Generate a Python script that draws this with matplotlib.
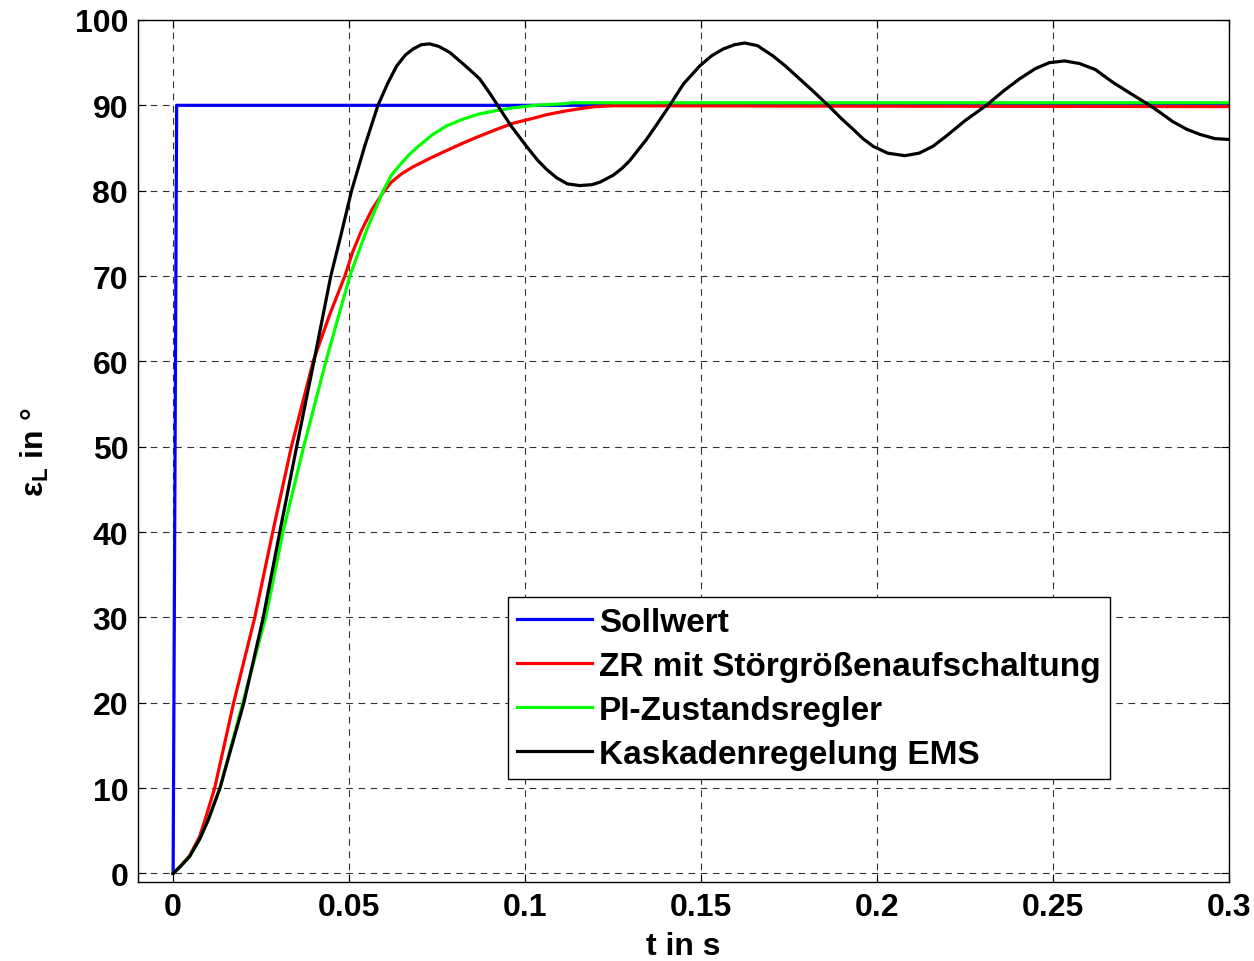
import matplotlib
matplotlib.use("Agg")
import matplotlib.pyplot as plt

# Sprungantworten (t in s, Winkel in Grad)
t_soll = [0.0, 0.001, 0.3]
y_soll = [0.0, 90.0, 90.0]

t_zr = [0.0, 0.002, 0.0047, 0.0075, 0.009, 0.0118, 0.0145, 0.0172, 0.0202, 0.0232, 0.0283,
        0.0336, 0.0398, 0.0445, 0.0488, 0.0510, 0.0535, 0.0565, 0.0597, 0.0620, 0.0650,
        0.0682, 0.0730, 0.0777, 0.0825, 0.0871, 0.0920, 0.0966, 0.1015, 0.1061, 0.1110,
        0.1155, 0.1200, 0.125, 0.2, 0.3]
y_zr = [0.0, 0.8, 2.1, 4.3, 6.2, 10.0, 15.0, 20.0, 25.0, 30.0, 40.0,
        50.0, 60.0, 65.5, 70.0, 72.8, 75.3, 77.8, 79.8, 81.0, 82.0,
        82.8, 83.8, 84.7, 85.6, 86.4, 87.2, 87.9, 88.4, 88.9, 89.3,
        89.6, 89.85, 89.95, 89.9, 89.85]

t_pi = [0.0, 0.002, 0.0047, 0.0075, 0.0099, 0.0133, 0.0198, 0.0263, 0.0312, 0.0371, 0.0434,
        0.047, 0.0502, 0.0549, 0.0597, 0.0620, 0.0644, 0.0668, 0.0691, 0.0735, 0.0777,
        0.0825, 0.0871, 0.0920, 0.0966, 0.1028, 0.1118, 0.113, 0.3]
y_pi = [0.0, 0.8, 2.0, 4.0, 6.2, 10.0, 20.0, 30.0, 40.0, 50.0, 60.0,
        65.3, 70.0, 75.3, 80.0, 81.8, 83.0, 84.1, 85.0, 86.5, 87.6,
        88.4, 89.0, 89.4, 89.7, 90.0, 90.2, 90.3, 90.3]

t_ems = [0.0, 0.002, 0.0047, 0.0075, 0.0099, 0.0133, 0.0167, 0.0201, 0.0256, 0.0303, 0.0351,
         0.0400, 0.0448, 0.0478, 0.0507, 0.0545, 0.0582, 0.0610, 0.0635, 0.0660, 0.0682,
         0.0705, 0.0729, 0.0755, 0.0786, 0.0820, 0.0850, 0.0871, 0.0900, 0.0922, 0.0960,
         0.1004, 0.1035, 0.1061, 0.1090, 0.1120, 0.1155, 0.1190, 0.1213, 0.1250, 0.1275,
         0.1297, 0.1320, 0.1345, 0.1375, 0.1411, 0.1450, 0.1496, 0.1530, 0.1563, 0.1595,
         0.1624, 0.1660, 0.1704, 0.1740, 0.1780, 0.1820, 0.1861, 0.1900, 0.1932, 0.1960,
         0.1989, 0.2030, 0.2079, 0.2120, 0.2159, 0.2197, 0.2250, 0.2311, 0.2360, 0.2405,
         0.2450, 0.2490, 0.2533, 0.2575, 0.2620, 0.2670, 0.2720, 0.2775, 0.2810, 0.2840,
         0.2880, 0.2917, 0.2960, 0.3000]
y_ems = [0.0, 0.8, 2.0, 4.0, 6.2, 10.0, 15.0, 20.0, 30.0, 40.0, 50.0,
         60.0, 70.0, 75.0, 80.0, 85.3, 90.0, 92.6, 94.6, 95.9, 96.6,
         97.1, 97.2, 96.9, 96.2, 95.0, 93.9, 93.1, 91.4, 90.0, 87.6,
         85.2, 83.6, 82.5, 81.5, 80.8, 80.6, 80.7, 81.0, 81.8, 82.6,
         83.5, 84.7, 86.0, 87.8, 90.0, 92.5, 94.6, 95.8, 96.6, 97.1,
         97.3, 97.0, 95.8, 94.6, 93.1, 91.6, 90.0, 88.4, 87.2, 86.1,
         85.2, 84.4, 84.1, 84.4, 85.2, 86.4, 88.2, 90.0, 91.7, 93.1,
         94.3, 95.0, 95.2, 94.9, 94.2, 92.7, 91.4, 90.0, 89.0, 88.1,
         87.2, 86.6, 86.1, 86.0]

labels = ["Sollwert", "ZR mit Störgrößenaufschaltung", "PI-Zustandsregler", "Kaskadenregelung EMS"]
x_ticks = [0, 0.05, 0.1, 0.15, 0.2, 0.25, 0.3]
x_ticklabels = ["0", "0.05", "0.1", "0.15", "0.2", "0.25", "0.3"]
y_ticks = [0, 10, 20, 30, 40, 50, 60, 70, 80, 90, 100]

plt.rcParams["font.family"] = ["Liberation Sans", "DejaVu Sans"]
plt.rcParams["font.weight"] = "bold"
plt.rcParams["mathtext.fontset"] = "custom"
plt.rcParams["mathtext.rm"] = "Liberation Sans:bold"
plt.rcParams["mathtext.bf"] = "Liberation Sans:bold"
plt.rcParams["mathtext.it"] = "Liberation Sans:bold"

fig = plt.figure(figsize=(12.54, 9.62), dpi=100)
ax = fig.add_axes([0.110, 0.0821, 0.870, 0.8961])

lw = 2.3
ax.plot(t_soll, y_soll, color="#0000ff", linewidth=lw, label=labels[0])
ax.plot(t_zr, y_zr, color="#ff0000", linewidth=lw, label=labels[1])
ax.plot(t_pi, y_pi, color="#00ff00", linewidth=lw, label=labels[2])
ax.plot(t_ems, y_ems, color="#000000", linewidth=lw, label=labels[3])

ax.set_xlim(-0.01, 0.3)
ax.set_ylim(-1, 100)
ax.set_xticks(x_ticks)
ax.set_xticklabels(x_ticklabels)
ax.set_yticks(y_ticks)
ax.tick_params(direction="in", length=6, width=0.8, top=True, right=True,
               labelsize=23, pad=7)
for lab in ax.get_xticklabels() + ax.get_yticklabels():
    lab.set_fontweight("bold")

ax.grid(True, linestyle=(0, (6, 5)), color="#333333", linewidth=0.8)
for sp in ax.spines.values():
    sp.set_linewidth(1.0)
    sp.set_color("black")

ax.set_xlabel("t in s", fontsize=23, fontweight="bold", labelpad=7)
ax.set_ylabel("ε$_{\\mathbf{L}}$ in °", fontsize=23, fontweight="bold", labelpad=17)

leg = ax.legend(loc="lower left", bbox_to_anchor=(0.339, 0.1195), fontsize=24,
                frameon=True, fancybox=False, framealpha=1, edgecolor="black",
                handlelength=2.25, handletextpad=0.21, labelspacing=0.39,
                borderpad=0.28, borderaxespad=0)
leg.get_frame().set_linewidth(1.0)
for txt in leg.get_texts():
    txt.set_fontweight("bold")

fig.savefig("out.png", dpi=100)
